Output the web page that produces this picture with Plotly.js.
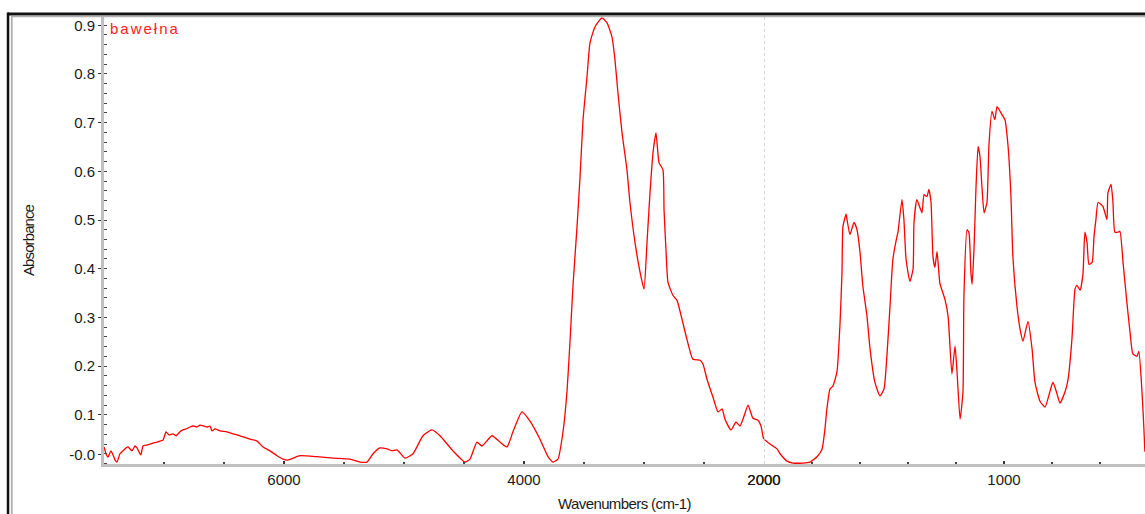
<!DOCTYPE html>
<html><head><meta charset="utf-8">
<script src="https://cdn.plot.ly/plotly-3.0.1.min.js"></script>
<style>html,body{margin:0;padding:0;background:#fff;overflow:hidden}</style>
</head><body><div id="chart" style="width:1145px;height:514px"></div>
<script>
// Spectrum: wavenumber (cm-1) and absorbance
const wavenumber = [
7500,7483,7467,7442,7425,7408,7392,7367,7342,7317,7300,7267,7242,7225,7200,7192,7175,7142,7117,7092,
7058,7033,7008,6983,6958,6925,6900,6867,6842,6817,6783,6758,6725,6700,6667,6642,6617,6600,6575,6533,
6475,6425,6367,6283,6225,6175,6117,6058,6008,5975,5925,5867,5725,5592,5450,5367,5308,5258,5200,5142,
5100,5058,4992,4925,4842,4767,4700,4592,4492,
4450,4392,4350,4267,4200,4142,4092,4017,3950,3867,3800,3758,3717,3675,3642,3617,3592,3558,3533,3508,
3475,3450,3408,3350,3308,3267,3242,3217,3183,3142,3117,3075,3033,3000,2975,2950,2925,2900,2875,2842,
2833,2817,2800,2758,2725,2683,2642,2592,2533,2508,2475,2425,2383,2350,2325,2275,2233,2200,2167,2133,
2092,2050,2025,2008,2000,
1975,1946,1933,1904,1879,1838,1808,1779,1758,1746,1738,1725,1713,1696,1683,1675,1671,1658,1654,1642,
1625,1613,1600,1588,1571,1558,1538,1517,1500,1488,1475,1463,1446,1442,1425,1417,1408,1392,1379,1375,
1363,1342,1333,1321,1313,1304,1296,1288,1279,1267,1246,1233,1217,1204,1196,1183,1171,1167,1154,1146,
1138,1133,1125,1117,1108,1100,1092,1083,1071,1063,1050,1038,1029,1008,996,983,971,963,946,933,
921,900,883,871,850,829,808,796,779,767,746,733,717,704,696,683,671,663,654,646,
633,625,617,608,588,571,567,554,546,538,525,517,504,488,475,463,446,438,425,417,413
];
const absorbance = [
0.034,0.020,0.013,0.026,0.018,0.007,0.003,0.020,0.026,0.032,0.034,0.026,0.036,0.032,0.020,0.018,0.036,0.038,0.040,0.042,
0.044,0.046,0.048,0.065,0.059,0.061,0.057,0.065,0.069,0.071,0.075,0.077,0.075,0.079,0.077,0.075,0.077,0.067,0.071,0.067,
0.065,0.061,0.057,0.050,0.046,0.034,0.026,0.016,0.009,0.007,0.011,0.016,0.014,0.011,0.009,0.003,0.003,0.020,0.032,0.030,
0.026,0.028,0.011,0.020,0.057,0.069,0.057,0.026,0.003,
0.009,0.044,0.036,0.057,0.044,0.034,0.065,0.106,0.087,0.050,0.014,0.003,0.009,0.065,0.147,0.249,0.364,0.487,0.589,0.706,
0.794,0.864,0.897,0.915,0.905,0.876,0.829,0.761,0.679,0.603,0.536,0.454,0.393,0.358,0.454,0.556,0.638,0.679,0.618,0.603,
0.521,0.440,0.372,0.345,0.335,0.296,0.255,0.214,0.212,0.204,0.173,0.136,0.106,0.112,0.091,0.069,0.085,0.077,0.097,0.120,
0.093,0.089,0.077,0.055,0.050,
0.040,0.030,0.020,0.005,0.001,0.001,0.003,0.014,0.030,0.071,0.112,0.153,0.159,0.188,0.290,0.393,0.487,0.512,0.501,0.470,
0.495,0.481,0.434,0.364,0.303,0.235,0.167,0.139,0.153,0.220,0.323,0.419,0.466,0.474,0.542,0.501,0.419,0.374,0.399,0.495,
0.542,0.515,0.552,0.548,0.563,0.536,0.425,0.403,0.435,0.370,0.337,0.302,0.184,0.241,0.190,0.091,0.147,0.343,0.480,0.474,
0.393,0.368,0.440,0.563,0.651,0.630,0.569,0.515,0.536,0.651,0.723,0.706,0.733,0.716,0.706,0.651,0.548,0.425,0.323,0.276,
0.251,0.292,0.235,0.167,0.128,0.116,0.149,0.167,0.143,0.124,0.147,0.173,0.255,0.358,0.366,0.356,0.389,0.475,0.454,0.409,
0.413,0.466,0.501,0.536,0.528,0.501,0.556,0.573,0.536,0.475,0.475,0.477,0.413,0.331,0.270,0.225,0.220,0.230,0.147,0.071,0.024
];
const scaleBreak = 2000;
const xTicksHigh = [6000, 4000, 2000];
const xTicksLow = [2000, 1000];
const yTickVals = [0.019, 0.1, 0.2, 0.3, 0.4, 0.5, 0.6, 0.7, 0.8, 0.9];
const yTickText = ["-0.0", "0.1", "0.2", "0.3", "0.4", "0.5", "0.6", "0.7", "0.8", "0.9"];
const sampleName = "bawełna";
const xTitle = "Wavenumbers (cm-1)";
const yTitle = "Absorbance";

const hiX = [], hiY = [], loX = [], loY = [];
wavenumber.forEach((w, i) => {
  if (w >= scaleBreak) { hiX.push(w); hiY.push(absorbance[i]); }
  if (w <= scaleBreak) { loX.push(w); loY.push(absorbance[i]); }
});

const FONT = "Liberation Sans, Arial, sans-serif";
const lineStyle = {color: '#ff0000', width: 1.3, shape: 'spline', smoothing: 0.5};
const traces = [
  {x: hiX, y: hiY, xaxis: 'x', yaxis: 'y', mode: 'lines', line: lineStyle, hoverinfo: 'skip'},
  {x: loX, y: loY, xaxis: 'x2', yaxis: 'y', mode: 'lines', line: lineStyle, hoverinfo: 'skip'}
];

const split = 660 / 1041;
const xCommon = {
  showline: true, linecolor: '#c0c0c0', linewidth: 3, showgrid: false, zeroline: false,
  tickmode: 'array', ticks: 'inside', ticklen: 3, tickcolor: '#333', tickwidth: 1.5,
  tickfont: {family: FONT, size: 15, color: '#1a1a1a'}, anchor: 'y', fixedrange: true
};
const layout = {
  width: 1145, height: 514,
  margin: {l: 104, r: 0, t: 16, b: 50, pad: 0},
  paper_bgcolor: '#fff', plot_bgcolor: '#fff', showlegend: false,
  xaxis: Object.assign({}, xCommon, {domain: [0, split], range: [7500, 2000], tickvals: xTicksHigh,
    minor: {dtick: 500, tick0: 0, ticks: 'inside', ticklen: 2, tickcolor: '#444', tickwidth: 1.5}}),
  xaxis2: Object.assign({}, xCommon, {domain: [split, 1], range: [2000, 412.5], tickvals: xTicksLow,
    minor: {dtick: 200, tick0: 0, ticks: 'inside', ticklen: 2, tickcolor: '#444', tickwidth: 1.5}}),
  yaxis: {
    range: [-0.001, 0.919], showline: true, linecolor: '#c0c0c0', linewidth: 3, showgrid: false, zeroline: false,
    tickmode: 'array', tickvals: yTickVals, ticktext: yTickText, ticks: 'outside', ticklen: 3, tickcolor: '#333',
    tickfont: {family: FONT, size: 15, color: '#1a1a1a'}, fixedrange: true,
    minor: {dtick: 0.02, tick0: 0, ticks: 'inside', ticklen: 3, tickcolor: '#444', tickwidth: 1}
  },
  shapes: [
    {type: 'line', xref: 'x2', yref: 'paper', x0: scaleBreak, x1: scaleBreak, y0: 0, y1: 1,
     line: {color: '#c8c8c8', width: 1.5, dash: 'dot'}},
    {type: 'line', xref: 'paper', yref: 'paper', x0: -0.0925, x1: 1.01, y0: 1.0045, y1: 1.0045,
     line: {color: '#111', width: 3}},
    {type: 'line', xref: 'paper', yref: 'paper', x0: -0.0886, x1: 1.01, y0: 0.9988, y1: 0.9988,
     line: {color: '#b0b0b0', width: 1.5}},
    {type: 'line', xref: 'paper', yref: 'paper', x0: -0.0922, x1: -0.0922, y0: 1.008, y1: -0.2,
     line: {color: '#111', width: 2.5}},
    {type: 'line', xref: 'paper', yref: 'paper', x0: -0.0886, x1: -0.0886, y0: 1.0, y1: -0.2,
     line: {color: '#b0b0b0', width: 1.8}}
  ],
  annotations: [
    {xref: 'paper', yref: 'paper', x: 4 / 1041, y: 1, xanchor: 'left', yanchor: 'middle', yshift: -12,
     showarrow: false, text: '<span style="letter-spacing:2px">' + sampleName + '</span>',
     font: {family: FONT, size: 15, color: '#ff2020'}},
    {xref: 'paper', yref: 'paper', x: 0.5, y: -(503 - 464) / 448, xanchor: 'center', yanchor: 'middle',
     showarrow: false, text: '<span style="letter-spacing:-0.6px">' + xTitle + '</span>',
     font: {family: FONT, size: 15, color: '#1a1a1a'}},
    {xref: 'paper', yref: 'paper', x: (28 - 104) / 1041, y: 0.5, xanchor: 'center', yanchor: 'middle',
     textangle: -90, showarrow: false, text: '<span style="letter-spacing:-0.9px">' + yTitle + '</span>',
     font: {family: FONT, size: 15, color: '#1a1a1a'}}
  ]
};
Plotly.newPlot('chart', traces, layout, {displayModeBar: false, staticPlot: true});
</script></body></html>
